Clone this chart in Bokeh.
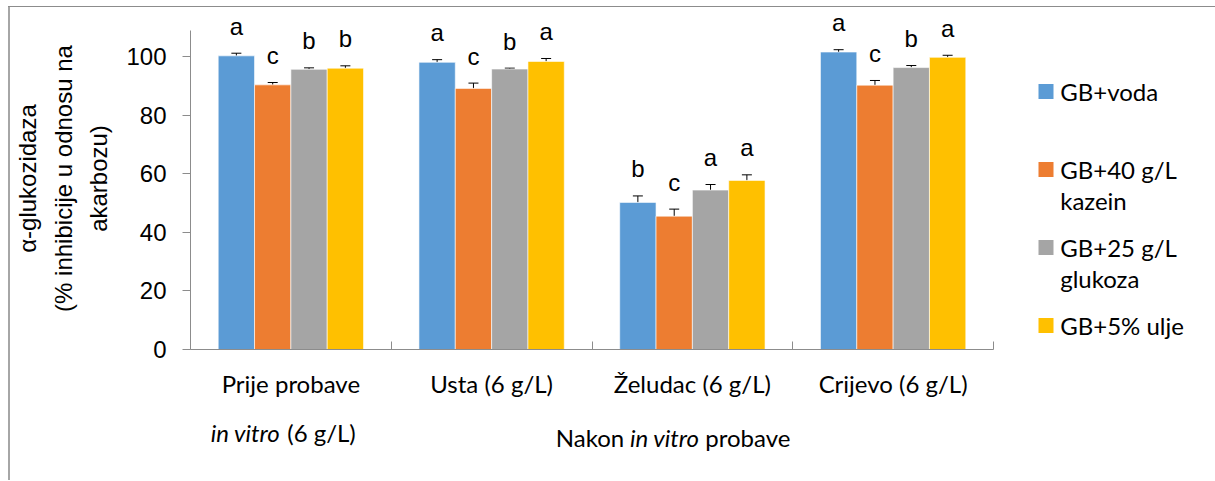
import numpy as np
from bokeh.plotting import figure
from bokeh.models import (ColumnDataSource, Whisker, TeeHead, FixedTicker, Range1d, Div, Spacer)
from bokeh.layouts import row, column
from bokeh.core.properties import value
from bokeh.embed import file_html
from bokeh.resources import INLINE

# ---------------- data ----------------
categories = ["Prije probave", "Usta (6 g/L)", "Želudac (6 g/L)", "Crijevo (6 g/L)"]
category_line2 = ["in vitro", "(6 g/L)"]          # second line under "Prije probave"
x_title = ["Nakon", "in vitro", "probave"]        # "Nakon in vitro probave"
y_title = "α-glukozidaza\n(% inhibicije u odnosu na\nakarbozu)"
series = ["GB+voda", "GB+40 g/L\nkazein", "GB+25 g/L\nglukoza", "GB+5% ulje"]
colors = ["#5B9BD5", "#ED7D31", "#A5A5A5", "#FFC000"]

voda = [100.2, 98.0, 50.2, 101.5]
kazein = [90.3, 89.1, 45.5, 90.2]
glukoza = [95.6, 95.7, 54.4, 96.2]
ulje = [96.0, 98.3, 57.7, 99.7]

voda_err = [0.9, 0.9, 2.2, 0.8]
kazein_err = [0.8, 1.8, 2.4, 1.6]
glukoza_err = [0.5, 0.3, 1.9, 0.7]
ulje_err = [0.8, 1.0, 1.9, 0.7]

voda_sig = ["a", "a", "b", "a"]
kazein_sig = ["c", "c", "c", "c"]
glukoza_sig = ["b", "b", "a", "b"]
ulje_sig = ["b", "a", "a", "a"]

y_ticks = [0, 20, 40, 60, 80, 100]

values = [voda, kazein, glukoza, ulje]
errors = [voda_err, kazein_err, glukoza_err, ulje_err]
sigs = [voda_sig, kazein_sig, glukoza_sig, ulje_sig]

# ---------------- styles ----------------
ARIAL = "Liberation Sans"
CALIBRI = "Lato"
AXIS_COLOR = "#8c8c8c"
FRAME_COLOR = "#a6a6a6"
TEXT_COLOR = "#000000"
bar_w = 0.181

MAIN_H, BOT_H, MB_BOTTOM = 403, 70, 61
MAIN_W, TOTAL_W = 989, 1215
LEG_W = TOTAL_W - 10 - MAIN_W
FRAME_H = MAIN_H - MB_BOTTOM

# ---------------- main plot ----------------
p = figure(width=MAIN_W, height=MAIN_H, output_backend="svg", toolbar_location=None,
           x_range=Range1d(0, 4), y_range=Range1d(0, 116.7),
           min_border_left=177, min_border_right=6, min_border_top=0,
           min_border_bottom=MB_BOTTOM)
p.outline_line_color = None
p.grid.visible = False

ngroups = len(categories)
centers = np.arange(ngroups) + 0.5
for j, (vals, errs, sg, col) in enumerate(zip(values, errors, sigs, colors)):
    xs = centers + (j - 1.5) * bar_w
    vals = np.array(vals)
    errs = np.array(errs)
    src = ColumnDataSource(dict(x=xs, top=vals, upper=vals + errs, sig=sg))
    p.vbar(x="x", top="top", width=bar_w, source=src, fill_color=col,
           line_color="white", line_width=0.6)
    w = Whisker(base="x", upper="upper", lower="top", source=src,
                line_color="black", line_width=1,
                upper_head=TeeHead(size=10, line_color="black", line_width=1),
                lower_head=None)
    p.add_layout(w)
    p.text(x="x", y="upper", text="sig", source=src, y_offset=-27,
           text_align="center", text_baseline="alphabetic",
           text_font=value(ARIAL), text_font_size="24px", text_color=TEXT_COLOR)

# y axis
ya = p.yaxis[0]
ya.ticker = FixedTicker(ticks=y_ticks)
ya.bounds = (0, 109)
ya.axis_line_color = AXIS_COLOR
ya.major_tick_line_color = AXIS_COLOR
ya.major_tick_out = 8
ya.major_tick_in = 0
ya.minor_tick_line_color = None
ya.major_label_standoff = 16
ya.major_label_text_font = ARIAL
ya.major_label_text_font_size = "24px"
ya.major_label_text_color = TEXT_COLOR
ya.axis_label = y_title
ya.axis_label_text_font = ARIAL
ya.axis_label_text_font_size = "24px"
ya.axis_label_text_font_style = "normal"
ya.axis_label_text_color = TEXT_COLOR
ya.axis_label_text_line_height = 1.33
ya.axis_label_standoff = 11

# x axis: labels at group centres, tick marks at group boundaries
xa = p.xaxis[0]
xa.ticker = FixedTicker(ticks=list(centers), minor_ticks=list(range(ngroups + 1)))
xa.major_label_overrides = {float(c): lab for c, lab in zip(centers, categories)}
xa.axis_line_color = AXIS_COLOR
xa.major_tick_line_color = None
xa.minor_tick_line_color = AXIS_COLOR
xa.minor_tick_in = 8
xa.minor_tick_out = 0
xa.major_label_standoff = 13
xa.major_label_text_font = CALIBRI
xa.major_label_text_font_size = "24px"
xa.major_label_text_color = TEXT_COLOR

# ---------------- bottom text strip (shares x scale with main plot) ----------------
bot = figure(width=MAIN_W, height=BOT_H, output_backend="svg", toolbar_location=None,
             x_range=p.x_range, y_range=Range1d(BOT_H, 0), x_axis_type=None, y_axis_type=None,
             min_border_left=177, min_border_right=6, min_border_top=0, min_border_bottom=0)
bot.outline_line_color = None
bot.grid.visible = False
txt = dict(
    x=[centers[0], centers[0], 2.5, 2.5, 2.5],
    y=[22, 22, 27, 27, 27],
    t=[category_line2[0], category_line2[1]] + x_title,
    dx=[-8, -1, -67, -26.5, 14],
    al=["right", "left", "right", "center", "left"],
    st=["italic", "normal", "normal", "italic", "normal"],
)
bot.text(x="x", y="y", text="t", x_offset="dx", text_align="al", text_font_style="st",
         source=ColumnDataSource(txt), text_baseline="middle",
         text_font=value(CALIBRI), text_font_size="24px", text_color=TEXT_COLOR)

# ---------------- legend panel ----------------
leg = figure(width=LEG_W, height=MAIN_H, output_backend="svg", toolbar_location=None,
             x_range=Range1d(0, LEG_W), y_range=Range1d(FRAME_H, 0),
             x_axis_type=None, y_axis_type=None,
             min_border_left=0, min_border_right=0, min_border_top=0,
             min_border_bottom=MB_BOTTOM)
leg.outline_line_color = None
leg.grid.visible = False
item_y0, item_step, line_step = 84, 78, 31
sq_x, sq_size, txt_x = 46.5, 15, 60.7
sq = dict(x=[], y=[], c=[])
tx = dict(x=[], y=[], t=[])
for i, (name, col) in enumerate(zip(series, colors)):
    yy = item_y0 + item_step * i
    sq["x"].append(sq_x); sq["y"].append(yy); sq["c"].append(col)
    for k, line in enumerate(name.split("\n")):
        tx["x"].append(txt_x); tx["y"].append(yy + line_step * k); tx["t"].append(line)
leg.rect(x="x", y="y", width=sq_size, height=sq_size, fill_color="c", line_color=None,
         source=ColumnDataSource(sq))
leg.text(x="x", y="y", text="t", source=ColumnDataSource(tx), text_align="left",
         text_baseline="middle", text_font=value(CALIBRI), text_font_size="24px",
         text_color=TEXT_COLOR)

# ---------------- chart-area border (left + top), as thin coloured blocks ----------------
top_gap = Spacer(width=TOTAL_W, height=6, margin=0)
top_line = row(Spacer(width=8, height=1, margin=0),
               Div(width=TOTAL_W - 8, height=1, margin=0,
                   styles={"background-color": "#8c8c8c"}))
left_line = Div(width=2, height=MAIN_H + BOT_H, margin=0,
                styles={"background-color": FRAME_COLOR})

layout = column(top_gap, top_line,
                row(Spacer(width=8, height=MAIN_H + BOT_H, margin=0), left_line,
                    column(row(p, leg), bot)))

open("out.html", "w").write(file_html(layout, INLINE))
